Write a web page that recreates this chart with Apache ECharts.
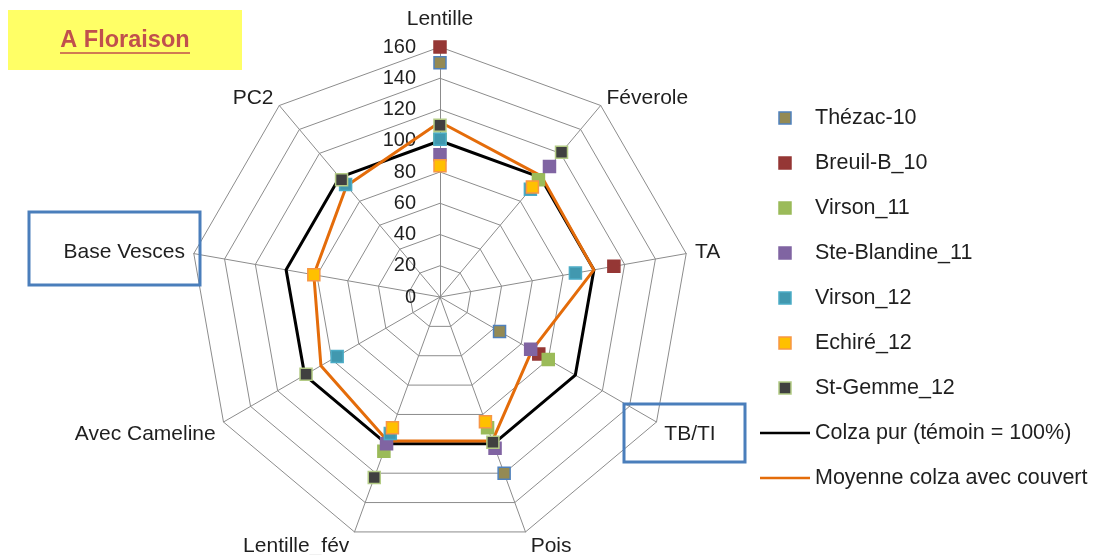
<!DOCTYPE html>
<html><head><meta charset="utf-8">
<script src="https://cdn.jsdelivr.net/npm/echarts@6/dist/echarts.min.js"></script>
<style>html,body{margin:0;padding:0;background:#fff}#c{width:1108px;height:555px}</style>
</head><body><div id="c"></div>
<script>
// Axis order (counter-clockwise from top, as ECharts places indicators)
const indicators = ['Lentille', 'PC2', 'Base Vesces', 'Avec Cameline', 'Lentille_fév', 'Pois', 'TB/TI', 'TA', 'Féverole'];
const tickLabels = [0, 20, 40, 60, 80, 100, 120, 140, 160];
const thezac10      = [150, null, null, null, null, 120, 44, null, null];
const breuilB10     = [160, null, null, null, null, null, 73, 113, null];
const virson11      = [101, null, null, null, 105, 89, 80, null, 98];
const steBlandine11 = [91, null, null, null, 100, 103, 67, null, 109];
const virson12      = [101, 94, null, 76, 93, null, null, 88, 90];
const echire12      = [84, null, 82, null, 89, 85, null, null, 92];
const stGemme12     = [110, 98, null, 99, 123, 99, null, null, 121];
const colzaPur      = [100, 100, 100, 100, 100, 100, 100, 100, 100];
const moyenne       = [112, 93, 82, 88, 98, 98, 68, 100, 101];

const markerSeries = [
  {name: 'Thézac-10', data: thezac10, fill: '#948A54', border: '#4F81BD'},
  {name: 'Breuil-B_10', data: breuilB10, fill: '#953735', border: '#953735'},
  {name: 'Virson_11', data: virson11, fill: '#9BBB59', border: '#9BBB59'},
  {name: 'Ste-Blandine_11', data: steBlandine11, fill: '#8064A2', border: '#8064A2'},
  {name: 'Virson_12', data: virson12, fill: '#4198AF', border: '#4BACC6'},
  {name: 'Echiré_12', data: echire12, fill: '#FFC000', border: '#F79646'},
  {name: 'St-Gemme_12', data: stGemme12, fill: '#404040', border: '#B3CB85'}
];
const lineSeries = [
  {name: 'Colza pur (témoin = 100%)', data: colzaPur, color: '#000000'},
  {name: 'Moyenne colza avec couvert', data: moyenne, color: '#E46C0A'}
];

const FONT = 'Liberation Sans';
const CENTER = [440, 297], RADIUS = 250, MAXV = tickLabels[tickLabels.length - 1];
const chart = echarts.init(document.getElementById('c'));

const series = [];
lineSeries.forEach(s => series.push({
  type: 'radar', name: s.name, z: 2, symbol: 'none',
  itemStyle: {color: s.color},
  lineStyle: {color: s.color, width: 3},
  data: [{value: s.data, name: s.name}]
}));
markerSeries.forEach((s, i) => series.push({
  type: 'scatter', coordinateSystem: 'polar', name: s.name, z: 3 + i,
  symbol: 'rect', symbolSize: 12,
  itemStyle: {color: s.fill, borderColor: s.border, borderWidth: 1.5, opacity: 1},
  data: s.data.map((v, k) => v == null ? null : [v, indicators[k]]).filter(d => d)
}));

const legendData = markerSeries.map(s => ({
  name: s.name, icon: 'path://M0,0h10v10h-10z',
  itemStyle: {color: s.fill, borderColor: s.border, borderWidth: 1.5}
})).concat(lineSeries.map(s => ({
  name: s.name, icon: 'path://M0,0h50v2.6h-50z',
  itemStyle: {color: s.color, borderWidth: 0}
})));

const special = {
  'Lentille': {nameGap: 17, axisLabel: {show: true, margin: 24, fontSize: 20, color: '#1F1F1F', fontFamily: FONT}},
  'Lentille_fév': {nameGap: 15},
  'Pois': {nameGap: 15}
};
const lowered = ['TB/TI', 'Avec Cameline'];

chart.setOption({
  animation: false,
  textStyle: {fontFamily: FONT},
  radar: {
    center: CENTER, radius: RADIUS, startAngle: 90,
    shape: 'polygon', splitNumber: tickLabels.length - 1,
    indicator: indicators.map(n => Object.assign({name: n, min: 0, max: MAXV}, special[n] || {})),
    nameGap: 9,
    axisName: {
      color: '#1F1F1F', fontSize: 21, fontFamily: FONT,
      formatter: function (name) { return lowered.indexOf(name) >= 0 ? '{low|' + name + '}' : name; },
      rich: {low: {padding: [15, 0, 0, 0], fontSize: 21, color: '#1F1F1F', fontFamily: FONT}}
    },
    axisLabel: {show: false},
    axisTick: {show: false},
    axisLine: {lineStyle: {color: '#8C8C8C', width: 1}},
    splitLine: {lineStyle: {color: '#8C8C8C', width: 1}},
    splitArea: {show: false}
  },
  polar: {center: CENTER, radius: RADIUS},
  angleAxis: {
    type: 'category', data: indicators, startAngle: 90, clockwise: false, boundaryGap: false,
    axisLine: {show: false}, axisTick: {show: false}, axisLabel: {show: false}, splitLine: {show: false}
  },
  radiusAxis: {
    type: 'value', min: 0, max: MAXV,
    axisLine: {show: false}, axisTick: {show: false}, axisLabel: {show: false}, splitLine: {show: false}
  },
  legend: {
    orient: 'vertical', left: 755, top: 102,
    itemWidth: 50, itemHeight: 12, itemGap: 23,
    textStyle: {fontSize: 21.5, color: '#1F1F1F', fontFamily: FONT, lineHeight: 22},
    data: legendData
  },
  graphic: [
    {type: 'rect', shape: {x: 8, y: 10, width: 234, height: 60}, style: {fill: '#FFFF66'}, z: 1},
    {type: 'text', x: 125, y: 41, z: 2, style: {text: 'A Floraison', font: 'bold 23.5px ' + FONT, fill: '#C0504D', align: 'center', verticalAlign: 'middle'}},
    {type: 'line', shape: {x1: 60, y1: 53, x2: 190, y2: 53}, style: {stroke: '#C0504D', lineWidth: 1.5}, z: 2},
    {type: 'rect', shape: {x: 29, y: 212, width: 171, height: 73}, style: {fill: 'none', stroke: '#4A7EBB', lineWidth: 3}, z: 1},
    {type: 'rect', shape: {x: 624, y: 404, width: 121, height: 58}, style: {fill: 'none', stroke: '#4A7EBB', lineWidth: 3}, z: 1}
  ],
  series: series
});
</script></body></html>
